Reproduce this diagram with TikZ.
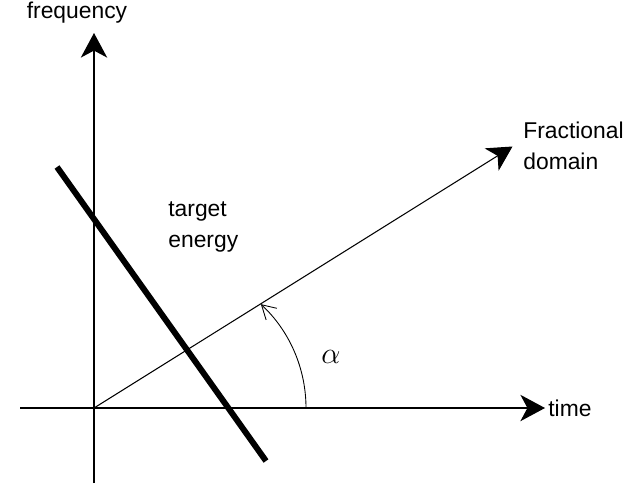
\documentclass[tikz,border=0pt]{standalone}
\usepackage{fontspec}
\setmainfont{Liberation Sans}
\usetikzlibrary{calc,arrows.meta}

\begin{document}
\begin{tikzpicture}[
      axis/.style={line width=0.7pt, -{Stealth[length=14pt, width=15pt, inset=4pt]}},
      lbl/.style={font=\fontsize{13}{18}\selectfont, align=left},
      every node/.style={inner sep=0pt}]
    \useasboundingbox (0,0) rectangle (12.48,9.8);
    \coordinate (o)  at (1.88,1.64);
    \coordinate (xl) at (0.40,1.64);
    \coordinate (xr) at (10.90,1.64);
    \coordinate (yb) at (1.88,0.14);
    \coordinate (yt) at (1.88,9.14);
    \coordinate (fd) at (10.25,6.87);
    \coordinate (e1) at (1.14,6.46);
    \coordinate (e2) at (5.32,0.58);
    \coordinate (a0) at (6.12,1.64);
    \draw[axis] (xl) -- (xr);
    \draw[axis] (yb) -- (yt);
    \draw[axis, line width=0.6pt] (o) -- (fd);
    \draw[line width=3.4pt] (e1) -- (e2);
    \draw[line width=0.5pt, -{Straight Barb[angle=60:9pt]}] (a0) arc[start angle=0, end angle=47, radius=2.84];
    \node[lbl] (freq) at (1.54,9.55) {frequency};
    \node[lbl, anchor=west] (time) at (10.96,1.64) {time};
    \node[lbl, anchor=west] (frac) at (10.46,6.88) {Fractional\\domain};
    \node[lbl, anchor=west] (tgt) at (3.36,5.26) {target\\energy};
    \node[font=\fontsize{16}{16}\selectfont] (alpha) at (6.62,2.66) {$\alpha$};
  \end{tikzpicture}
\end{document}
